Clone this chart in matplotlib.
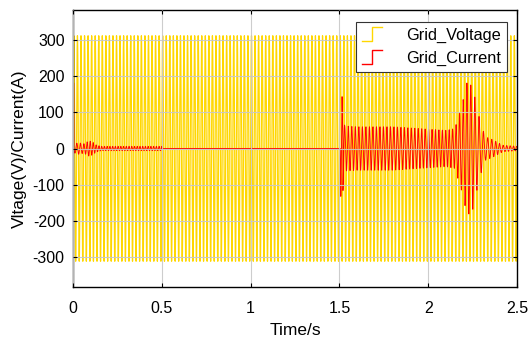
import numpy as np
import matplotlib
matplotlib.use("Agg")
import matplotlib.pyplot as plt
from matplotlib.lines import Line2D
from matplotlib.legend_handler import HandlerLine2D

plt.rcParams['font.family'] = ['Liberation Sans', 'DejaVu Sans']
plt.rcParams['axes.unicode_minus'] = False

# Grid voltage: peak value and mains frequency
v_peak = 311.0
v_freq = 50.0
t_end = 2.5

# Grid current: envelope key points (time s, amplitude A) and oscillation freq (Hz)
env_t = [0.0, 0.004, 0.006, 0.03, 0.06, 0.09, 0.11, 0.13, 0.15, 0.16, 0.5, 0.501,
         1.505, 1.508, 1.515, 1.53, 1.6, 1.8, 1.95, 2.1, 2.15, 2.19, 2.22, 2.25,
         2.29, 2.32, 2.36, 2.42, 2.5]
env_a = [185, 185, 12, 16, 13, 21, 18, 10, 7, 6, 6, 0,
         0, 132, 143, 62, 60, 60, 55, 50, 55, 120, 185, 170,
         80, 33, 25, 9, 6]
freq_t = [0.0, 0.15, 0.5, 1.5, 2.15, 2.3, 2.5]
freq_f = [45, 65, 65, 50, 52, 40, 55]

t = np.linspace(0, t_end, 60001)
voltage = v_peak * np.sin(2 * np.pi * v_freq * t)

amp = np.interp(t, env_t, env_a)
f_inst = np.interp(t, freq_t, freq_f)
phase = 2 * np.pi * np.cumsum(f_inst) * (t[1] - t[0])
current = amp * np.sin(phase + np.pi / 2)
# start-up spike and the switch-on transient at 1.5 s
current[t < 0.005] = np.interp(t[t < 0.005], [0, 0.0045, 0.005], [185, 180, 5])
m = (t > 1.505) & (t < 1.52)
current[m] = np.interp(t[m], [1.505, 1.508, 1.512, 1.515, 1.52], [0, -132, 0, 143, 20])


class StepHandler(HandlerLine2D):
    def create_artists(self, legend, orig_handle, xdescent, ydescent,
                       width, height, fontsize, trans):
        x0, x1 = -xdescent, -xdescent + width
        xm = (x0 + x1) / 2
        y0, y1 = -ydescent - height * 0.1, -ydescent + height * 1.1
        ln = Line2D([x0, xm, xm, x1], [y0, y0, y1, y1],
                    color=orig_handle.get_color(), lw=1.0)
        ln.set_transform(trans)
        return [ln]


fig = plt.figure(figsize=(5.32, 3.43), dpi=100)
ax = fig.add_axes([73 / 532, 1 - 287 / 343, 444 / 532, 277 / 343])

lv, = ax.plot(t, voltage, color='#FFD700', lw=0.9, label='Grid_Voltage')
lc, = ax.plot(t, current, color='#FF0000', lw=0.65, label='Grid_Current')

ax.set_xlim(0, 2.5)
ax.set_ylim(-382, 382)
ax.set_xticks([0, 0.5, 1, 1.5, 2, 2.5])
ax.set_xticklabels(['0', '0.5', '1', '1.5', '2', '2.5'])
ax.set_yticks([-300, -200, -100, 0, 100, 200, 300])
ax.tick_params(direction='in', top=True, right=True, labelsize=11.5,
               length=3, width=0.8)
ax.tick_params(axis='x', pad=10)
ax.tick_params(axis='y', pad=6)
ax.grid(True, color='#c8c8c8', lw=0.8, alpha=0.9)
ax.set_axisbelow(False)
for s in ax.spines.values():
    s.set_linewidth(1.0)

ax.set_xlabel('Time/s', fontsize=12.5, labelpad=5)
ax.set_ylabel('Vltage(V)/Current(A)', fontsize=12.5, labelpad=4)

leg = ax.legend(handles=[lv, lc], loc='upper right', fontsize=11.8,
                handler_map={Line2D: StepHandler()},
                fancybox=False, edgecolor='#333333', framealpha=1,
                bbox_to_anchor=(0.977, 0.958), borderpad=0.35,
                handlelength=1.25, handletextpad=1.45, labelspacing=0.5,
                borderaxespad=0)
leg.get_frame().set_linewidth(0.8)

fig.savefig('out.png', dpi=100)
